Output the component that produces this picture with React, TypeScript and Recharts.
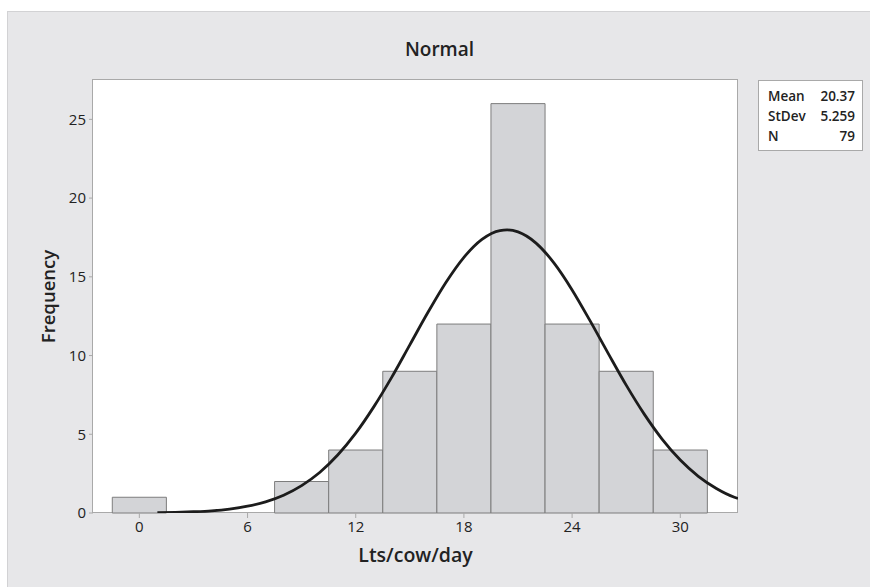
import { ComposedChart, Line, XAxis, YAxis, ReferenceArea } from 'recharts';

// histogram bins (width 3)
const binCenters = [0, 3, 6, 9, 12, 15, 18, 21, 24, 27, 30];
const binCounts = [1, 0, 0, 2, 4, 9, 12, 26, 12, 9, 4];
const binWidth = 3;

// fitted normal curve
const curveX = [1, 2, 3, 4, 5, 6, 7, 8, 9, 10, 11, 12, 13, 14, 15, 16, 17, 18, 19, 20, 20.4, 21, 22, 23, 24, 25, 26, 27, 28, 29, 30, 31, 32, 33, 33.2];
const curveY = [0.02, 0.04, 0.08, 0.14, 0.25, 0.43, 0.71, 1.13, 1.74, 2.57, 3.68, 5.07, 6.74, 8.63, 10.68, 12.73, 14.64, 16.24, 17.38, 17.94, 17.98, 17.85, 17.14, 15.87, 14.17, 12.2, 10.14, 8.12, 6.28, 4.68, 3.36, 2.33, 1.56, 1.0, 0.92];

const xTicks = [0, 6, 12, 18, 24, 30];
const yTicks = [0, 5, 10, 15, 20, 25];

const statLabels = ['Mean', 'StDev', 'N'];
const statValues = ['20.37', '5.259', '79'];

const curveData = curveX.map((x, i) => ({ x, y: curveY[i] }));

const font = '"Open Sans", "Noto Sans", sans-serif';
const tickStyle = { fill: '#222', fontSize: 15, fontFamily: font };

const App = () => {
    return (
        <div style={{ position: 'absolute', left: 7, top: 11, width: 863, height: 576, background: '#e7e7e9', borderTop: '1px solid #d2d2d4', borderLeft: '1px solid #d2d2d4', boxSizing: 'border-box' }}>
            <div style={{ position: 'absolute', left: 0, top: 24, width: 863, textAlign: 'center', fontFamily: font, fontSize: 19, fontWeight: 600, color: '#222' }}>
                Normal
            </div>
            {/* plot background */}
            <div style={{ position: 'absolute', left: 84, top: 67, width: 646, height: 434, background: '#fff', border: '1px solid #a9a9a9', boxSizing: 'border-box' }} />
            <div style={{ position: 'absolute', left: 0, top: 0 }}>
                <ComposedChart
                    width={863}
                    height={576}
                    data={curveData}
                    margin={{ top: 68, right: 133, left: 0, bottom: 45 }}
                >
                    <XAxis
                        dataKey="x"
                        type="number"
                        domain={[-2.57, 33.2]}
                        allowDataOverflow
                        ticks={xTicks}
                        axisLine={false}
                        tickLine={{ stroke: '#a9a9a9' }}
                        tickSize={5}
                        tickMargin={3}
                        height={30}
                        tick={tickStyle}
                        label={{ value: 'Lts/cow/day', position: 'bottom', offset: 5, style: { fill: '#222', fontSize: 19.5, fontWeight: 600, fontFamily: font } }}
                    />
                    <YAxis
                        type="number"
                        domain={[0, 27.5]}
                        allowDataOverflow
                        ticks={yTicks}
                        axisLine={false}
                        tickLine={{ stroke: '#a9a9a9' }}
                        tickSize={4}
                        tickMargin={3}
                        width={85}
                        tick={tickStyle}
                        label={{ value: 'Frequency', angle: -90, position: 'insideLeft', offset: 40, style: { textAnchor: 'middle', fill: '#222', fontSize: 18.5, fontWeight: 600, fontFamily: font } }}
                    />
                    {binCenters.map((c, i) =>
                        binCounts[i] > 0 ? (
                            <ReferenceArea
                                key={`bin-${i}`}
                                x1={c - binWidth / 2}
                                x2={c + binWidth / 2}
                                y1={0}
                                y2={binCounts[i]}
                                fill="#d3d4d7"
                                fillOpacity={1}
                                stroke="#7d7d7d"
                                strokeWidth={1}
                            />
                        ) : null
                    )}
                    <Line
                        dataKey="y"
                        type="monotone"
                        stroke="#1c1c1c"
                        strokeWidth={2.8}
                        dot={false}
                        isAnimationActive={false}
                    />
                </ComposedChart>
            </div>
            <div style={{ position: 'absolute', left: 750, top: 68, width: 105, height: 71, background: '#fff', border: '1px solid #a9a9a9', boxSizing: 'border-box', padding: '5px 7px 0 9px', fontFamily: font, fontSize: 13.5, fontWeight: 600, color: '#222' }}>
                {statLabels.map((l, i) => (
                    <div key={l} style={{ display: 'flex', justifyContent: 'space-between', lineHeight: '20px' }}>
                        <span>{l}</span>
                        <span>{statValues[i]}</span>
                    </div>
                ))}
            </div>
        </div>
    );
};

export default App;
